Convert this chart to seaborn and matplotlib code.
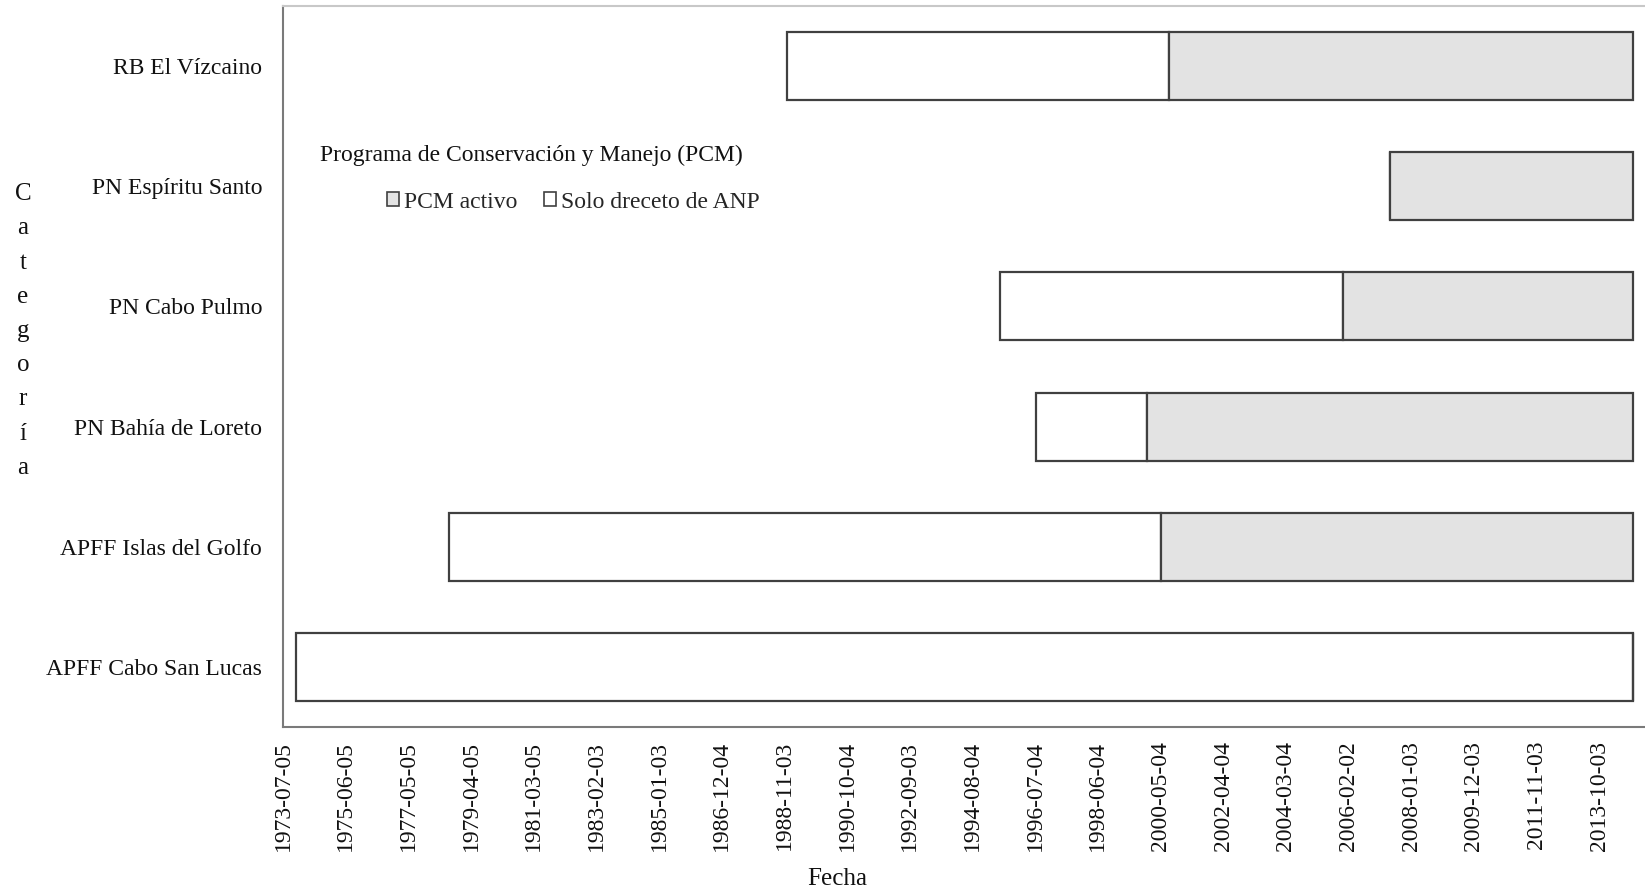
import matplotlib
matplotlib.use("Agg")
import matplotlib.pyplot as plt
import matplotlib.dates as mdates
from matplotlib.patches import Patch
import numpy as np
import pandas as pd
import seaborn as sns

sns.set_theme(style="white")
plt.rcParams["font.family"] = ["Liberation Serif", "DejaVu Serif"]

# data
categorias = ["RB El Vízcaino", "PN Espíritu Santo", "PN Cabo Pulmo",
              "PN Bahía de Loreto", "APFF Islas del Golfo", "APFF Cabo San Lucas"]
decreto = ["1988-11-30", "2007-05-10", "1995-06-06",
           "1996-07-19", "1978-08-02", "1973-11-29"]
inicio_pcm = ["2000-08-08", "2007-05-10", "2005-12-04",
              "1999-12-06", "2000-05-16", "2014-10-17"]
fin = ["2014-10-17"] * 6
fechas_eje = ["1973-07-05", "1975-06-05", "1977-05-05", "1979-04-05", "1981-03-05",
              "1983-02-03", "1985-01-03", "1986-12-04", "1988-11-03", "1990-10-04",
              "1992-09-03", "1994-08-04", "1996-07-04", "1998-06-04", "2000-05-04",
              "2002-04-04", "2004-03-04", "2006-02-02", "2008-01-03", "2009-12-03",
              "2011-11-03", "2013-10-03"]

d_ini = mdates.date2num(pd.to_datetime(decreto))
d_pcm = mdates.date2num(pd.to_datetime(inicio_pcm))
d_fin = mdates.date2num(pd.to_datetime(fin))
ticks = mdates.date2num(pd.to_datetime(fechas_eje))

df = pd.DataFrame({"categoria": categorias,
                   "solo": d_pcm - d_ini,
                   "pcm": d_fin - d_pcm})

W, H = 1645, 893
fig = plt.figure(figsize=(W / 100, H / 100), dpi=100)
ax = fig.add_axes([283 / W, 1 - 727 / H, 1 - 283 / W, 721 / H])

edge = "#404040"
gris = "#e3e3e3"
sns.barplot(data=df, y="categoria", x="solo", order=categorias, orient="y",
            left=np.asarray(d_ini), color="white", edgecolor=edge, linewidth=1.6,
            width=0.567, errorbar=None, ax=ax)
sns.barplot(data=df, y="categoria", x="pcm", order=categorias, orient="y",
            left=np.asarray(d_pcm), color=gris, saturation=1, edgecolor=edge,
            linewidth=1.6, width=0.567, errorbar=None, ax=ax)

ax.set_xlim(ticks[0], ticks[0] + 15213)
ax.set_ylim(5.5, -0.5)
ax.set_xticks(ticks)
ax.set_xticklabels(fechas_eje, rotation=90, fontsize=17)
ax.tick_params(axis="x", length=0, pad=10, colors="#111111")
ax.tick_params(axis="y", length=0, pad=15, labelsize=17, colors="#111111")

for s in ["left", "bottom"]:
    ax.spines[s].set_color("#7a7a7a")
    ax.spines[s].set_linewidth(1.5)
ax.spines["top"].set_color("#c8c8c8")
ax.spines["top"].set_linewidth(1.5)
ax.spines["right"].set_visible(False)

ax.set_xlabel("Fecha", fontsize=18, color="#111111")
ax.xaxis.set_label_coords((837 - 283) / 1362, (727 - 879) / 721)
ax.xaxis.label.set_va("center")

ax.set_ylabel("\n".join("Categoría"), rotation=0, fontsize=18,
              color="#111111", linespacing=1.72, va="center", ha="center")
ax.yaxis.set_label_coords((23 - 283) / 1362, 1 - (331 - 6) / 721)

fig.text(320 / W, 1 - 155 / H, "Programa de Conservación y Manejo (PCM)",
         fontsize=17, va="center", ha="left", color="#111111")
handles = [Patch(facecolor=gris, edgecolor=edge, linewidth=1.2),
           Patch(facecolor="white", edgecolor=edge, linewidth=1.2)]
fig.legend(handles, ["PCM activo", "Solo dreceto de ANP"], ncol=2,
           loc="center left", bbox_to_anchor=(387 / W, 1 - 202 / H),
           frameon=False, fontsize=17, borderpad=0, borderaxespad=0,
           handlelength=0.5, handleheight=0.5, handletextpad=0.2,
           columnspacing=1.15)

fig.savefig("out.png", dpi=100)
